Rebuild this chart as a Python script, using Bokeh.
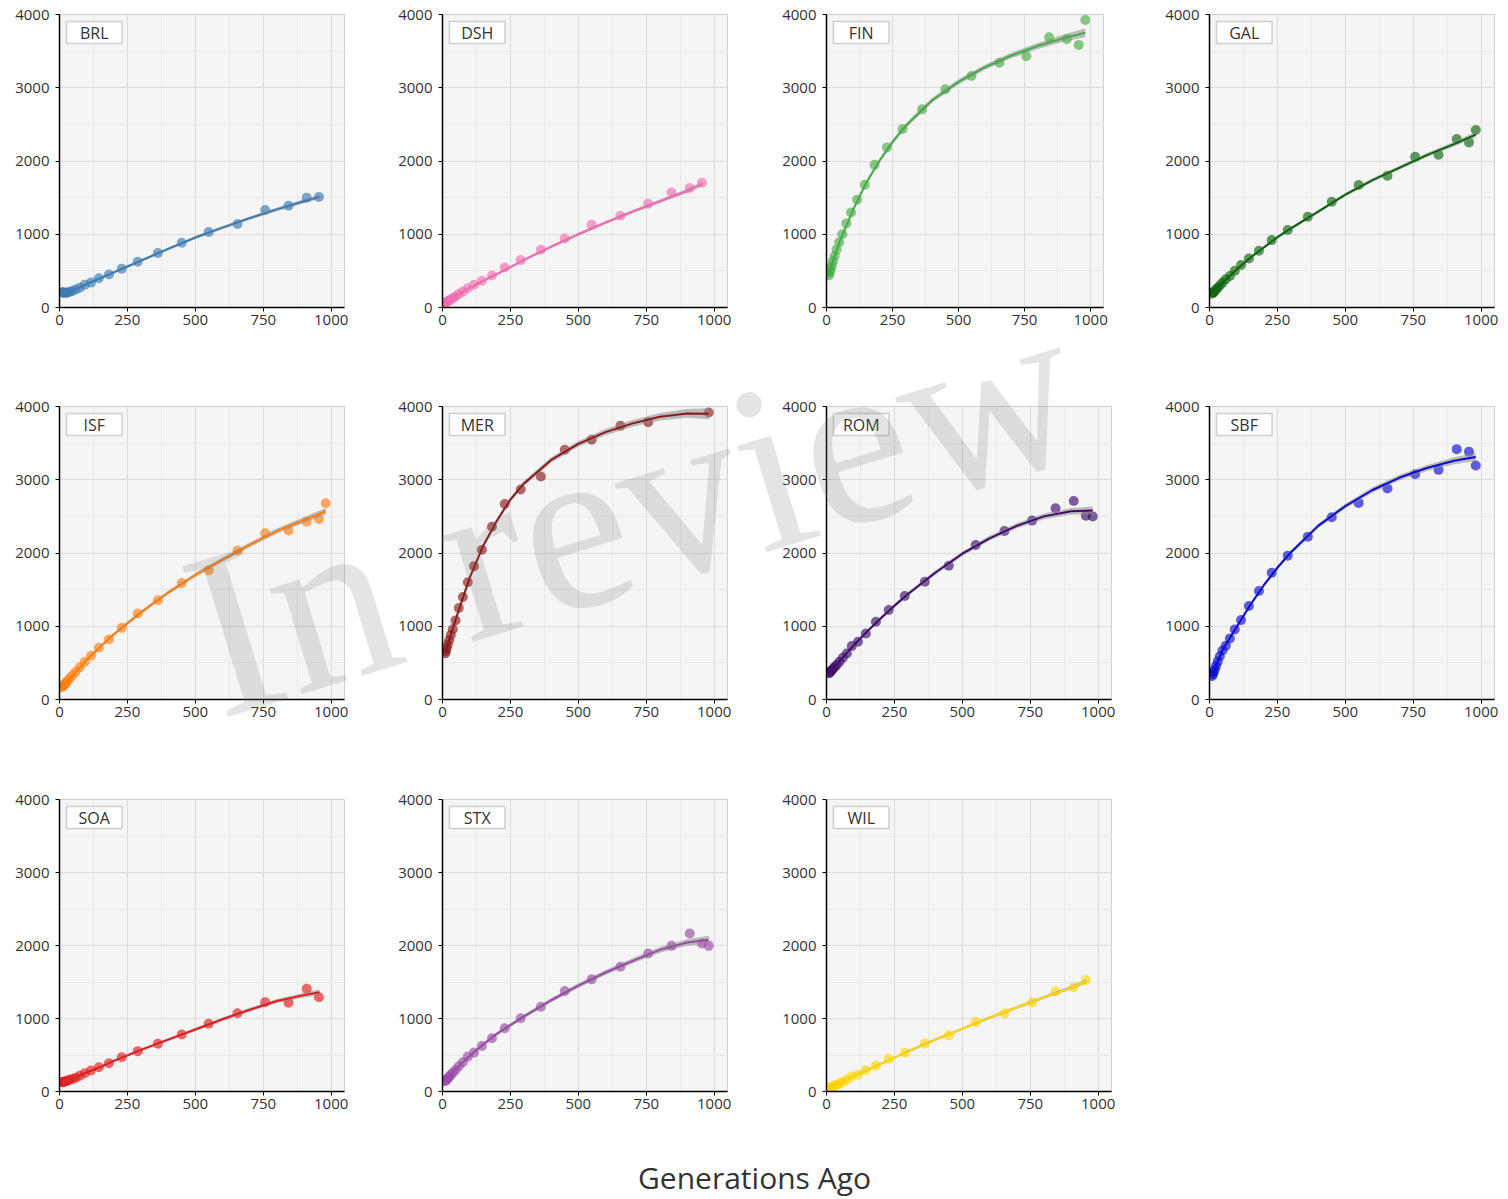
import numpy as np
from bokeh.plotting import figure
from bokeh.layouts import column, row
from bokeh.models import Range1d, FixedTicker, Label, BoxAnnotation, Div
from bokeh.embed import file_html
from bokeh.resources import INLINE

NAN = float("nan")

# ---------------- data ----------------
NAMES = ["BRL", "DSH", "FIN", "GAL", "ISF", "MER", "ROM", "SBF", "SOA", "STX", "WIL"]
COLORS = ["#3a7ab5", "#f26cb2", "#45ad45", "#0a640a", "#ff7f0e", "#8b1a1a",
          "#3d0a6b", "#0a0ad0", "#e41a1c", "#9a4aa6", "#ffd700"]

# generations ago (point positions)
X = [10, 12.5, 15.6, 19.5, 24.4, 30.5, 38, 48, 60, 75, 93, 116, 145, 182, 229,
     288, 362, 450, 549, 655, 757, 843, 910, 955, 980]

Y_BRL = [210, 205, 203, 200, 202, 205, 215, 225, 245, 270, 310, 340, 400, 450, 530,
         625, 745, 885, 1030, 1140, 1330, 1390, 1500, 1510, NAN]
Y_DSH = [60, 65, 75, 85, 95, 110, 125, 150, 185, 215, 262, 310, 365, 437, 546,
         647, 788, 943, 1130, 1253, 1417, 1571, 1631, 1704, NAN]
Y_FIN = [440, 480, 520, 570, 630, 700, 790, 890, 1000, 1148, 1298, 1471, 1676, 1950, 2186,
         2437, 2705, 2978, 3161, 3343, 3429, 3689, 3661, 3585, 3926]
Y_GAL = [190, 200, 210, 225, 245, 270, 300, 340, 385, 430, 501, 579, 670, 775, 920,
         1057, 1239, 1444, 1672, 1799, 2059, 2086, 2300, 2254, 2423]
Y_ISF = [170, 180, 195, 210, 230, 255, 290, 330, 380, 440, 515, 597, 706, 819, 978,
         1173, 1355, 1590, 1763, 2035, 2271, 2308, 2426, 2462, 2680]
Y_MER = [630, 660, 700, 750, 810, 880, 960, 1080, 1250, 1400, 1600, 1818, 2045, 2359, 2668,
         2868, 3045, 3409, 3545, 3736, 3786, NAN, NAN, NAN, 3918]
Y_ROM = [360, 370, 385, 400, 420, 445, 475, 515, 570, 629, 729, 788, 902, 1061, 1221,
         1412, 1608, 1827, 2110, 2301, 2442, 2611, 2711, 2510, 2497]
Y_SBF = [320, 345, 375, 410, 460, 520, 590, 670, 733, 834, 957, 1084, 1276, 1481, 1731,
         1964, 2223, 2488, 2684, 2880, 3076, 3135, 3418, 3381, 3194]
Y_SOA = [128, 130, 133, 137, 142, 150, 160, 172, 190, 215, 250, 288, 333, 388, 470,
         553, 653, 781, 927, 1073, 1224, 1215, 1406, 1292, NAN]
Y_STX = [140, 150, 165, 180, 200, 225, 255, 295, 345, 400, 478, 533, 624, 729, 866,
         1003, 1162, 1376, 1536, 1708, 1891, 1995, 2164, 2028, 1995]
Y_WIL = [45, 50, 55, 62, 70, 80, 92, 108, 130, 160, 207, 230, 290, 354, 447,
         530, 658, 769, 954, 1073, 1221, 1369, 1429, 1526, NAN]

# fitted curve, read at these generations
FX_957 = [10, 25, 50, 100, 150, 200, 250, 300, 400, 500, 600, 700, 800, 900, 957]
FX_980 = [10, 25, 50, 100, 150, 200, 250, 300, 400, 500, 600, 700, 800, 900, 980]

FIT_BRL = [210, 205, 232, 320, 400, 480, 560, 640, 800, 955, 1090, 1220, 1340, 1450, 1510]
FIT_DSH = [55, 95, 165, 265, 365, 455, 550, 650, 830, 1000, 1160, 1310, 1450, 1590, 1690]
FIT_FIN = [440, 640, 900, 1330, 1700, 2000, 2260, 2480, 2830, 3080, 3280, 3440, 3570, 3680, 3750]
FIT_GAL = [190, 250, 345, 520, 680, 820, 960, 1080, 1310, 1540, 1740, 1910, 2080, 2230, 2360]
FIT_ISF = [170, 235, 330, 540, 720, 890, 1040, 1190, 1460, 1700, 1910, 2110, 2300, 2450, 2570]
FIT_MER = [630, 820, 1110, 1660, 2100, 2440, 2730, 2950, 3270, 3490, 3650, 3770, 3860, 3905, 3900]
FIT_ROM = [360, 430, 530, 740, 930, 1110, 1280, 1440, 1730, 1990, 2200, 2370, 2500, 2570, 2580]
FIT_SBF = [310, 470, 690, 990, 1290, 1560, 1800, 2010, 2370, 2640, 2860, 3030, 3160, 3260, 3310]
FIT_SOA = [128, 145, 180, 260, 335, 420, 495, 570, 710, 850, 990, 1120, 1240, 1320, 1360]
FIT_STX = [140, 215, 310, 490, 645, 790, 910, 1030, 1250, 1450, 1630, 1790, 1940, 2040, 2080]
FIT_WIL = [45, 75, 115, 210, 295, 380, 465, 550, 710, 860, 1010, 1150, 1290, 1420, 1510]

# half-width of the grey confidence band
CI_BRL = [20, 18, 18, 18, 18, 18, 18, 18, 20, 20, 22, 22, 25, 28, 30]
CI_DSH = [20, 18, 18, 18, 18, 18, 18, 18, 20, 20, 22, 22, 25, 28, 30]
CI_FIN = [30, 28, 25, 25, 25, 28, 30, 32, 35, 35, 35, 38, 42, 50, 60]
CI_GAL = [22, 20, 20, 20, 20, 20, 20, 22, 22, 24, 25, 26, 28, 32, 38]
CI_ISF = [22, 20, 20, 20, 20, 22, 24, 25, 26, 28, 30, 32, 35, 40, 45]
CI_MER = [30, 28, 25, 25, 28, 30, 32, 35, 38, 40, 42, 45, 50, 60, 75]
CI_ROM = [25, 22, 22, 22, 22, 24, 26, 28, 30, 32, 34, 36, 40, 45, 55]
CI_SBF = [25, 22, 22, 22, 24, 26, 28, 30, 32, 34, 36, 38, 42, 48, 55]
CI_SOA = [20, 18, 18, 18, 18, 18, 20, 20, 22, 22, 24, 26, 28, 32, 36]
CI_STX = [22, 20, 20, 20, 22, 24, 26, 28, 30, 32, 34, 36, 40, 45, 55]
CI_WIL = [18, 16, 16, 16, 16, 16, 16, 18, 18, 18, 20, 20, 22, 24, 26]

X_TICKS = [0, 250, 500, 750, 1000]
X_MINOR = [125, 375, 625, 875]
Y_TICKS = [0, 1000, 2000, 3000, 4000]
Y_MINOR = [500, 1500, 2500, 3500]

PANELS = [
    (Y_BRL, FX_957, FIT_BRL, CI_BRL), (Y_DSH, FX_957, FIT_DSH, CI_DSH),
    (Y_FIN, FX_980, FIT_FIN, CI_FIN), (Y_GAL, FX_980, FIT_GAL, CI_GAL),
    (Y_ISF, FX_980, FIT_ISF, CI_ISF), (Y_MER, FX_980, FIT_MER, CI_MER),
    (Y_ROM, FX_980, FIT_ROM, CI_ROM), (Y_SBF, FX_980, FIT_SBF, CI_SBF),
    (Y_SOA, FX_957, FIT_SOA, CI_SOA), (Y_STX, FX_980, FIT_STX, CI_STX),
    (Y_WIL, FX_957, FIT_WIL, CI_WIL),
]

# ---------------- layout (page has no margin) ----------------
W_COLS = [391, 384, 383, 350]
BL_COLS = [59, 51, 51, 51]
H_ROWS = [392, 393, 334]
BT_ROWS = [14, 14, 14]
PLOT_H = [293, 293, 292]
XMAX = 1049
FONT = "Open Sans"

figs = []
for i, name in enumerate(NAMES):
    r, c = divmod(i, 4)
    ys, fx, fit, ci = PANELS[i]
    col = COLORS[i]
    pw = 277 if name == "FIN" else 285
    ph = PLOT_H[r]
    w, h = W_COLS[c], H_ROWS[r]
    bl, bt = BL_COLS[c], BT_ROWS[r]
    p = figure(width=w, height=h, title=None,
               x_range=Range1d(0, XMAX), y_range=Range1d(0, 4000),
               output_backend="svg", toolbar_location=None,
               min_border_left=bl, min_border_right=w - bl - pw,
               min_border_top=bt, min_border_bottom=h - bt - ph)
    p.background_fill_color = "#f5f5f5"
    p.border_fill_color = "white"
    p.outline_line_color = "#cfcfcf"
    p.outline_line_width = 1

    p.xaxis.ticker = FixedTicker(ticks=X_TICKS, minor_ticks=X_MINOR)
    p.yaxis.ticker = FixedTicker(ticks=Y_TICKS, minor_ticks=Y_MINOR)
    for ax in (p.xaxis[0], p.yaxis[0]):
        ax.axis_line_color = "black"
        ax.axis_line_width = 1.5
        ax.major_tick_line_color = "black"
        ax.major_tick_out = 4
        ax.major_tick_in = 0
        ax.minor_tick_line_color = None
        ax.major_label_text_font = FONT
        ax.major_label_text_font_size = "15px"
        ax.major_label_text_color = "#333333"
    p.xaxis.major_label_standoff = 3
    p.yaxis.major_label_standoff = 6
    for g in (p.xgrid[0], p.ygrid[0]):
        g.grid_line_color = "#dcdcdc"
        g.minor_grid_line_color = "#e9e9e9"

    fa = np.array(fit, dtype=float)
    ca = np.array(ci, dtype=float)
    p.scatter(X, ys, size=10, fill_color=col, fill_alpha=0.65, line_color=None)
    p.varea(x=fx, y1=fa - ca, y2=fa + ca, fill_color="#8a8a8a", fill_alpha=0.55)
    p.line(fx, fit, line_color=col, line_width=2)

    # panel name box
    xpp = XMAX / pw
    ypp = 4000 / ph
    box = BoxAnnotation(left=7 * xpp, right=62.5 * xpp,
                        top=4000 - 7 * ypp, bottom=4000 - 29 * ypp,
                        fill_color="white", fill_alpha=1.0,
                        line_color="#6e6e6e", line_width=1.5)
    p.add_layout(box)
    p.add_layout(Label(x=34.75 * xpp, y=4000 - 18 * ypp, text=name,
                       text_align="center", text_baseline="middle",
                       text_font=FONT, text_font_size="16px", text_color="#333333"))
    figs.append(p)

xl = figure(width=1508, height=79, x_range=Range1d(0, 1), y_range=Range1d(0, 1),
            x_axis_type=None, y_axis_type=None, output_backend="svg",
            toolbar_location=None, min_border=0, title=None)
xl.outline_line_color = None
xl.grid.visible = False
xl.add_layout(Label(x=754 / 1508, y=21 / 79, text="Generations Ago",
                    text_align="center", text_baseline="middle",
                    text_font=FONT, text_font_size="30px", text_color="#333333"))

# "In review" watermark laid over all panels
WM_LEFT, WM_TOP, WM_ANGLE = 156, 522, -17
wm_html = (
    '<div style="position:absolute; left:%dpx; top:%dpx; transform:rotate(%ddeg); '
    'transform-origin:0 0; font-family:\'Liberation Serif\', serif; font-size:240px; '
    'line-height:240px; white-space:nowrap; color:rgba(110,110,110,0.19); '
    'pointer-events:none;">In review</div>' % (WM_LEFT, WM_TOP, WM_ANGLE)
)
wm = Div(text=wm_html, width=1, height=1,
         styles={"position": "absolute", "left": "0px", "top": "0px",
                 "z-index": "10", "overflow": "visible", "pointer-events": "none"})

layout = column(row(*figs[0:4]), row(*figs[4:8]), row(*figs[8:11]), xl, wm)

open("out.html", "w").write(file_html(layout, INLINE))
